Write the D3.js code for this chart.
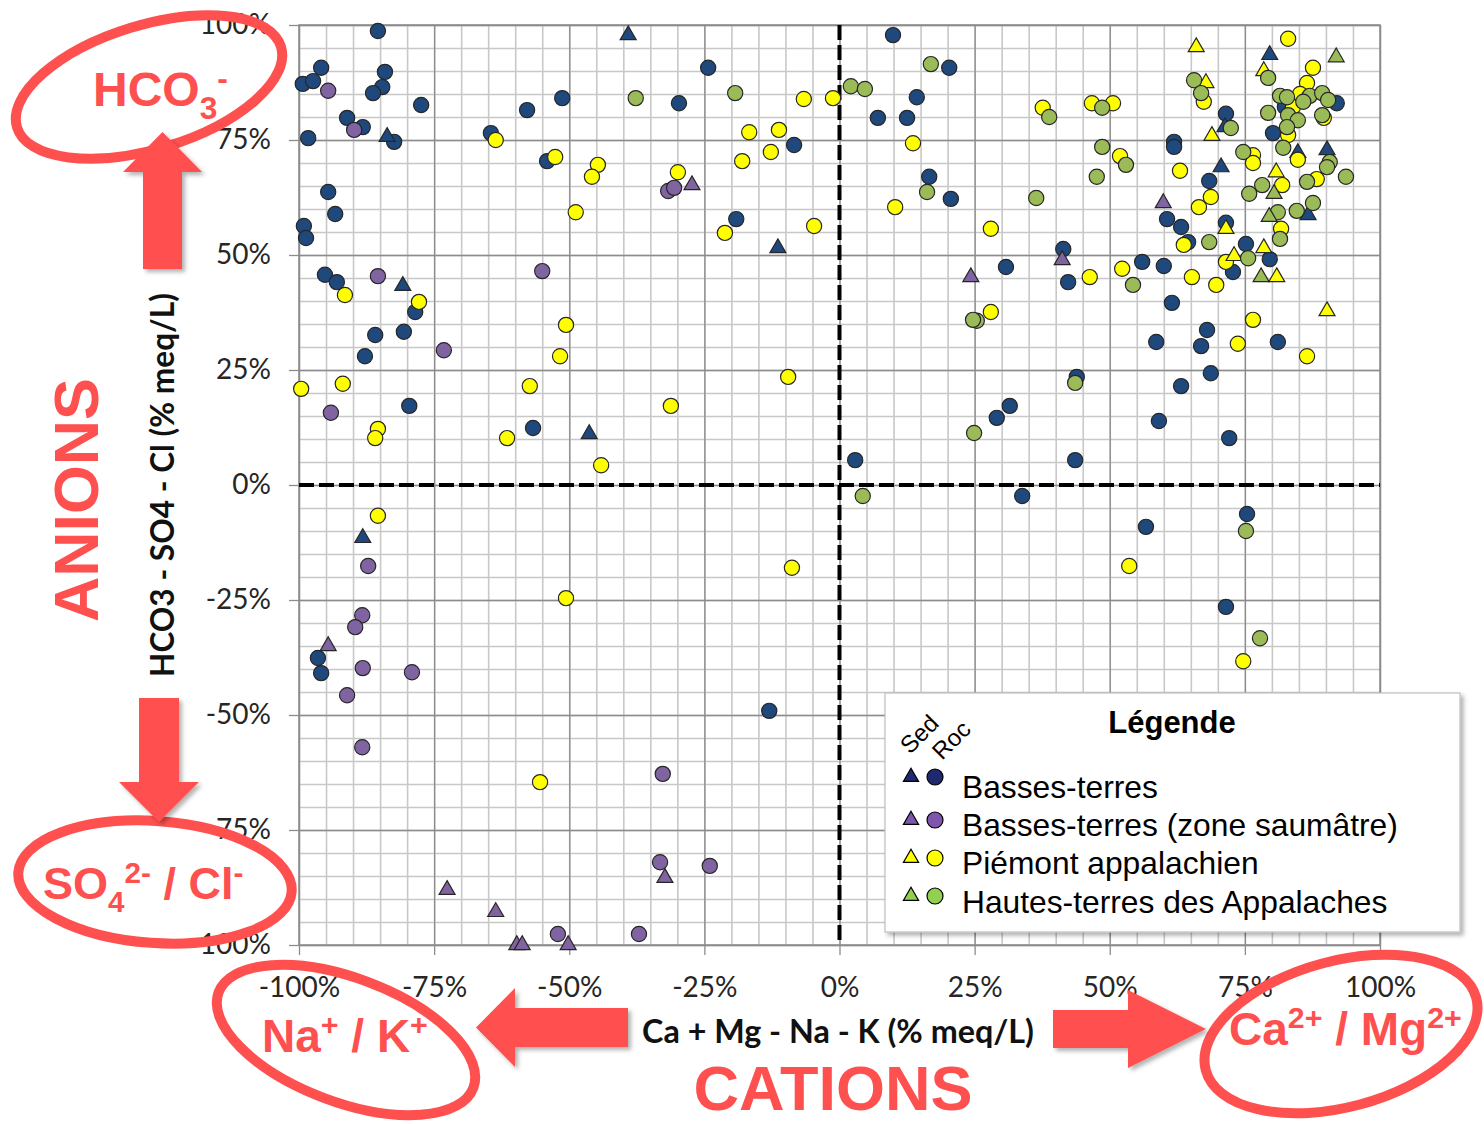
<!DOCTYPE html>
<html><head><meta charset="utf-8">
<script src="https://cdn.jsdelivr.net/npm/d3@7"></script>
<style>body{margin:0;background:#fff}svg{display:block}</style>
</head><body>
<svg id="chart" width="1484" height="1124"></svg>
<script>
// ---------- DATA (x: Ca+Mg-Na-K %, y: HCO3-SO4-Cl %) ----------
const xTickValues = [-100,-75,-50,-25,0,25,50,75,100];
const yTickValues = [-100,-75,-50,-25,0,25,50,75,100];
const seriesNames = ["Basses-terres","Basses-terres (zone saumâtre)","Piémont appalachien","Hautes-terres des Appalaches"];

const basRoc = [[-85.4,98.7],[-95.9,90.7],[-99.3,87.2],[-97.4,87.8],[-84.1,89.8],[-84.6,86.5],[-86.3,85.2],[-77.4,82.6],[-91.1,79.8],[-88.2,77.8],[-98.3,75.4],[-82.4,74.6],[-94.6,63.7],[-93.3,58.9],[-99.1,56.3],[-98.7,53.7],[-95.2,45.7],[-93.0,44.1],[-78.5,37.6],[-85.9,32.6],[-80.6,33.3],[-87.8,28.0],[-79.6,17.2],[-96.5,-37.6],[-95.9,-40.9],[-64.5,76.5],[-51.3,84.1],[-57.8,81.5],[-54.1,70.4],[-24.3,90.7],[-29.7,83.0],[-8.4,73.9],[-19.1,57.8],[-56.7,12.4],[-13.0,-49.1],[9.9,97.8],[20.3,90.7],[14.3,84.3],[7.1,79.8],[12.5,79.8],[16.6,67.0],[20.6,62.2],[2.9,5.4],[43.9,23.5],[68.7,24.3],[63.2,21.5],[31.5,17.2],[29.1,14.6],[59.1,13.9],[72.1,10.2],[43.6,5.4],[33.8,-2.4],[75.4,-6.3],[56.7,-9.1],[71.5,-26.5],[92.0,83.0],[82.4,82.2],[80.2,76.5],[71.5,80.7],[61.9,74.6],[61.9,73.5],[68.4,66.1],[60.6,57.8],[63.2,56.1],[71.5,57.0],[64.5,52.8],[75.2,52.4],[79.6,49.1],[72.8,46.3],[41.4,51.3],[30.8,47.4],[42.3,44.1],[56.0,48.5],[60.0,47.6],[61.5,39.6],[68.0,33.7],[58.6,31.1],[66.9,30.2],[81.1,31.1]];
const basSed = [[-83.7,75.7],[-80.8,43.3],[-88.2,-11.5],[-39.1,97.8],[-11.4,51.5],[-46.3,11.1],[79.6,93.5],[71.3,77.8],[90.2,72.8],[84.8,72.2],[70.6,69.1],[86.7,58.7]];
const saumRoc = [[-94.6,85.7],[-89.8,77.2],[-85.4,45.4],[-73.2,29.3],[-94.1,15.7],[-87.2,-17.6],[-88.3,-28.3],[-89.6,-30.9],[-88.2,-39.8],[-79.1,-40.7],[-91.1,-45.7],[-88.3,-57.0],[-55.0,46.5],[-31.7,63.9],[-30.6,64.6],[-32.7,-62.8],[-33.2,-82.0],[-24.0,-82.8],[-52.1,-97.6],[-37.1,-97.6]];
const saumSed = [[-94.6,-35.0],[-72.6,-88.0],[-63.6,-92.8],[-59.7,-100],[-58.7,-100],[-50.2,-100],[-27.3,65.2],[-32.3,-85.4],[24.3,45.2],[41.2,48.9],[59.9,61.3]];
const piedRoc = [[-91.5,41.3],[-77.8,39.8],[-63.6,75.0],[-99.6,20.9],[-91.9,22.0],[-85.4,12.2],[-85.9,10.2],[-85.4,-6.7],[-52.6,71.3],[-44.7,69.6],[-45.8,67.0],[-48.8,59.3],[-29.9,68.0],[-16.7,76.7],[-11.2,77.2],[-18.0,70.4],[-12.7,72.4],[-21.2,54.8],[-4.7,56.3],[-6.6,83.9],[-1.2,84.1],[13.6,74.3],[10.3,60.4],[-50.6,34.8],[-51.7,28.0],[-9.5,23.5],[-57.3,21.5],[-31.2,17.2],[-61.5,10.2],[-44.1,4.3],[-8.8,-18.0],[-50.6,-24.6],[-55.4,-64.6],[53.6,-17.6],[74.7,-38.3],[83.0,97.0],[87.6,90.7],[67.4,83.3],[86.5,87.4],[85.2,85.0],[83.9,82.2],[89.6,79.8],[83.0,76.1],[76.5,71.7],[76.5,70.0],[84.8,70.7],[88.3,66.5],[63.0,68.3],[81.9,65.2],[68.7,62.6],[66.5,60.4],[81.7,55.7],[63.7,52.2],[71.5,48.5],[46.3,45.2],[52.3,47.0],[65.2,45.2],[69.7,43.5],[76.5,35.9],[73.7,30.7],[86.5,28.0],[28.0,55.7],[37.6,82.0],[46.7,83.0],[50.6,83.0],[51.9,71.5],[28.0,37.6]];
const piedSed = [[66.0,95.2],[78.5,90.0],[67.8,87.4],[68.9,75.9],[80.8,68.0],[71.5,55.7],[78.5,51.5],[73.0,49.8],[80.9,45.2],[90.2,37.8]];
const hautRoc = [[-37.7,84.1],[-19.3,85.2],[2.1,86.7],[4.7,86.1],[16.9,91.5],[16.2,63.7],[4.3,-2.4],[24.9,11.3],[25.4,35.7],[24.7,35.9],[43.6,22.2],[75.2,-10.0],[77.8,-33.3],[79.3,88.5],[65.6,88.0],[66.9,85.2],[81.5,84.6],[87.0,84.6],[89.3,85.2],[85.8,83.3],[90.4,83.7],[82.8,84.3],[79.3,80.9],[83.0,80.4],[84.8,79.3],[89.3,80.4],[82.8,77.8],[72.4,77.6],[82.1,73.3],[74.7,72.4],[90.7,70.2],[90.2,69.1],[93.7,67.0],[86.5,65.9],[78.2,65.2],[75.8,63.3],[87.6,61.3],[84.6,59.6],[81.1,59.3],[81.5,53.5],[68.4,52.8],[75.6,49.3],[54.3,43.5],[36.4,62.4],[38.8,80.0],[48.6,82.0],[48.6,73.5],[53.0,69.6],[47.6,67.0]];
const hautSed = [[91.9,93.0],[80.4,63.3],[79.5,58.3],[78.0,45.2]];

// ---------- SETUP ----------
const svg = d3.select("#chart");
const L = 299, R = 1380, T = 25, B = 945;
const x = d3.scaleLinear().domain([-100,100]).range([L,R]);
const y = d3.scaleLinear().domain([-100,100]).range([B,T]);
const RED = "#FF5050";

const defs = svg.append("defs");
const f = defs.append("filter").attr("id","shadow").attr("x","-20%").attr("y","-20%").attr("width","150%").attr("height","150%");
f.append("feDropShadow").attr("dx",3).attr("dy",3).attr("stdDeviation",2).attr("flood-color","#000").attr("flood-opacity",0.3);

// minor grid (every 5%)
const minor = d3.range(-100,101,5);
const gMinor = svg.append("g");
gMinor.append("g").attr("transform",`translate(0,${B})`)
  .call(d3.axisBottom(x).tickValues(minor).tickSize(-(B-T)).tickFormat(""))
  .call(g=>{g.select(".domain").remove();g.selectAll("line").attr("stroke","#c8c8c8").attr("stroke-width",1.6);});
gMinor.append("g").attr("transform",`translate(${L},0)`)
  .call(d3.axisLeft(y).tickValues(minor).tickSize(-(R-L)).tickFormat(""))
  .call(g=>{g.select(".domain").remove();g.selectAll("line").attr("stroke","#c8c8c8").attr("stroke-width",1.6);});

// major grid + axes
const fmt = d=> d+"%";
svg.append("g").attr("transform",`translate(0,${B})`)
  .call(d3.axisBottom(x).tickValues(xTickValues).tickSize(-(B-T)).tickFormat(""))
  .call(g=>{g.select(".domain").remove();g.selectAll("line").attr("stroke","#8c8c8c").attr("stroke-width",1.3);});
svg.append("g").attr("transform",`translate(${L},0)`)
  .call(d3.axisLeft(y).tickValues(yTickValues).tickSize(-(R-L)).tickFormat(""))
  .call(g=>{g.select(".domain").remove();g.selectAll("line").attr("stroke","#8c8c8c").attr("stroke-width",1.3);});

// frame
svg.append("rect").attr("x",L).attr("y",T).attr("width",R-L).attr("height",B-T)
  .attr("fill","none").attr("stroke","#8c8c8c").attr("stroke-width",1.5);

const xAxis = svg.append("g").attr("transform",`translate(0,${B})`)
  .call(d3.axisBottom(x).tickValues(xTickValues).tickSize(10).tickPadding(22).tickFormat(fmt));
xAxis.select(".domain").remove();
xAxis.selectAll("line").attr("stroke","#8c8c8c").attr("stroke-width",1.3);
xAxis.selectAll("text").attr("font-family","Lato").attr("font-size",28).attr("fill","#262626");

const yAxis = svg.append("g").attr("transform",`translate(${L},0)`)
  .call(d3.axisLeft(y).tickValues(yTickValues).tickSize(10).tickPadding(18).tickFormat(fmt));
yAxis.select(".domain").remove();
yAxis.selectAll("line").attr("stroke","#8c8c8c").attr("stroke-width",1.3);
yAxis.selectAll("text").attr("font-family","Lato").attr("font-size",28).attr("fill","#262626");

// dashed zero lines
svg.append("line").attr("x1",x(-100)).attr("x2",x(100)).attr("y1",y(0)).attr("y2",y(0))
  .attr("stroke","#000").attr("stroke-width",4).attr("stroke-dasharray","15,5");
svg.append("line").attr("x1",x(0)).attr("x2",x(0)).attr("y1",y(100)).attr("y2",y(-100))
  .attr("stroke","#000").attr("stroke-width",4).attr("stroke-dasharray","15,5");

// ---------- POINTS ----------
const tri = d3.symbol().type(d3.symbolTriangle).size(110);
function circles(data, color){
  svg.append("g").selectAll("circle").data(data).join("circle")
    .attr("cx",d=>x(d[0])).attr("cy",d=>y(d[1])).attr("r",7.6)
    .attr("fill",color).attr("stroke","#262626").attr("stroke-width",1.2);
}
function triangles(data, color){
  svg.append("g").selectAll("path").data(data).join("path")
    .attr("d",tri).attr("transform",d=>`translate(${x(d[0])},${y(d[1])})`)
    .attr("fill",color).attr("stroke","#262626").attr("stroke-width",1.2);
}
const cBlue="#1F497D", cPurple="#8064A2", cYellow="#FFFF00", cGreen="#9BBB59";
circles(basRoc,cBlue); triangles(basSed,cBlue);
circles(saumRoc,cPurple); triangles(saumSed,cPurple);
circles(piedRoc,cYellow); triangles(piedSed,cYellow);
circles(hautRoc,cGreen); triangles(hautSed,cGreen);

// ---------- AXIS TITLES ----------
function fitWidth(t, target){
  const w = t.node().getComputedTextLength();
  const fs = parseFloat(t.attr("font-size"));
  t.attr("font-size", fs*target/w);
  return fs*target/w;
}
const xt = svg.append("text").attr("x",838).attr("y",1043).attr("text-anchor","middle")
  .attr("font-family","Lato").attr("font-weight","bold").attr("font-size",29).attr("fill","#111")
  .text("Ca + Mg - Na - K (% meq/L)");
fitWidth(xt,392);
const yt = svg.append("text").attr("transform","translate(174,485) rotate(-90)").attr("text-anchor","middle")
  .attr("font-family","Lato").attr("font-weight","bold").attr("font-size",29).attr("fill","#111")
  .text("HCO3 - SO4 - Cl (% meq/L)");
fitWidth(yt,384);

// ---------- LEGEND ----------
const lg = svg.append("g");
lg.append("rect").attr("x",885).attr("y",693).attr("width",575).attr("height",239)
  .attr("fill","#fff").attr("stroke","#bfbfbf").attr("stroke-width",1.2).attr("filter","url(#shadow)");
lg.append("text").attr("x",1172).attr("y",733).attr("text-anchor","middle")
  .attr("font-family","Liberation Sans, Arial").attr("font-weight","bold").attr("font-size",31).attr("fill","#000").text("Légende");
lg.append("text").attr("transform","translate(910,755) rotate(-45)").attr("font-family","Liberation Sans, Arial")
  .attr("font-size",24).attr("fill","#000").text("Sed");
lg.append("text").attr("transform","translate(942,761) rotate(-45)").attr("font-family","Liberation Sans, Arial")
  .attr("font-size",24).attr("fill","#000").text("Roc");
const legColors = ["#1F2A6E","#7F56AD","#FFFF00","#92D050"];
const rowY = [777,820,858,896];
const textY = [798,836,874,913];
const ltri = d3.symbol().type(d3.symbolTriangle).size(100);
const legTexts = [];
seriesNames.forEach((n,i)=>{
  lg.append("path").attr("d",ltri).attr("transform",`translate(911,${rowY[i]})`)
    .attr("fill",legColors[i]).attr("stroke","#000").attr("stroke-width",1.2);
  lg.append("circle").attr("cx",935).attr("cy",rowY[i]).attr("r",8)
    .attr("fill",legColors[i]).attr("stroke","#000").attr("stroke-width",1.2);
  legTexts.push(lg.append("text").attr("x",962).attr("y",textY[i]).attr("font-family","Liberation Sans, Arial")
    .attr("font-size",30).attr("fill","#000").text(n));
});
const legFs = fitWidth(legTexts[1],436);
legTexts.forEach(t=>t.attr("font-size",legFs));

// ---------- ANNOTATIONS ----------
const ann = svg.append("g");
function ell(cx,cy,rx,ry,rot){
  ann.append("ellipse").attr("cx",0).attr("cy",0).attr("rx",rx).attr("ry",ry)
    .attr("transform",`translate(${cx},${cy}) rotate(${rot})`)
    .attr("fill","none").attr("stroke",RED).attr("stroke-width",10);
}
ell(149,87,138,62,-17);
ell(155,882,137,61,4);
ell(346,1040,136,62,20.5);
ell(1341,1034,140,73,-15);

// arrows
const arrows = [
  [[143,269],[143,172],[123,172],[162.5,132],[202,172],[182,172],[182,269]],
  [[139,698],[139,782],[119,782],[159,822],[199,782],[179,782],[179,698]],
  [[628,1008],[515,1008],[515,988],[476,1027.5],[515,1067],[515,1047],[628,1047]],
  [[1053,1010],[1128,1010],[1128,990],[1206,1029],[1128,1068],[1128,1048],[1053,1048]]
];
arrows.forEach(p=>ann.append("path").attr("d",d3.line()(p)+"Z").attr("fill",RED).attr("filter","url(#shadow)"));

function redLabel(xp, yp, parts, fs){
  const t = ann.append("text").attr("x",xp).attr("y",yp).attr("font-family","Liberation Sans, Arial")
    .attr("font-weight","bold").attr("font-size",fs).attr("fill",RED);
  let cur = 0;
  parts.forEach(([s,kind])=>{
    const ts = t.append("tspan").text(s);
    let target = kind==="sub" ? fs*0.28 : kind==="sup" ? -fs*0.36 : 0;
    ts.attr("dy", target-cur); cur = target;
    if(kind!=="n") ts.attr("font-size", fs*0.66);
  });
  return t;
}
redLabel(93,106,[["HCO","n"],["3","sub"],["-","sup"]],48);
redLabel(43,899,[["SO","n"],["4","sub"],["2-","sup"],[" / Cl","n"],["-","sup"]],45);
redLabel(262,1052,[["Na","n"],["+","sup"],[" / K","n"],["+","sup"]],46);
redLabel(1229,1045,[["Ca","n"],["2+","sup"],[" / Mg","n"],["2+","sup"]],46);

const an = ann.append("text").attr("transform","translate(98,500) rotate(-90)").attr("text-anchor","middle")
  .attr("font-family","Liberation Sans, Arial").attr("font-weight","bold").attr("font-size",62).attr("fill",RED).text("ANIONS");
fitWidth(an,244);
const ca = ann.append("text").attr("x",833).attr("y",1110).attr("text-anchor","middle")
  .attr("font-family","Liberation Sans, Arial").attr("font-weight","bold").attr("font-size",62).attr("fill",RED).text("CATIONS");
fitWidth(ca,279);
</script>
</body></html>
